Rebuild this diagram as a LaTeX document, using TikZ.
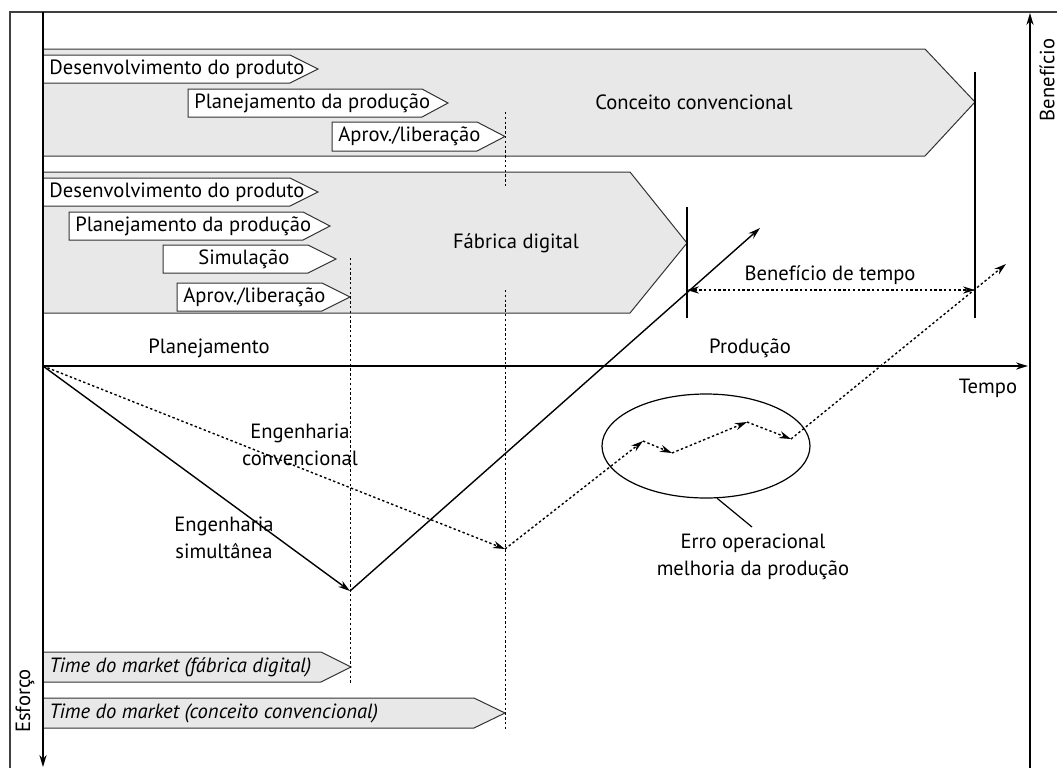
\documentclass[tikz,border=0pt]{standalone}
\usepackage{fontspec}
\setmainfont{PT Sans}
\usetikzlibrary{arrows.meta}
\usetikzlibrary{shapes.geometric}
\tikzset{>={Stealth[length=6pt,width=3.6pt]},
    every node/.style={
        font=\fontsize{10.3}{13.5}\selectfont},
    band/.style={
        draw=black!80,
        line width=0.5pt,
        fill=gray!18},
    chev/.style={
        draw=black!80,
        line width=0.5pt,
        fill=white},
    chevtext/.style={
        anchor=west,
        inner sep=0pt},
    axis/.style={
        line width=0.75pt},
    guide/.style={
        line width=0.5pt,
        dash pattern=on 1.2pt off 1.2pt},
    curve/.style={
        line width=0.7pt,
        ->},
    dcurve/.style={
        line width=0.7pt,
        dash pattern=on 1.2pt off 1.2pt,
        ->}}
% [inset]{style}{name}{left}{end}{tip}{top}{bottom}{text}
\newcommand{\chevron}[9][6]{%
    \draw[#2] (#4,#7) -- (#5,#7) -- (#6,{(#7+#8)/2}) -- (#5,#8) -- (#4,#8) -- cycle;
    \node[chevtext] (#3) at (#4+#1,{(#7+#8)/2}) {#9};}

\begin{document}
\begin{tikzpicture}[x=0.5pt,y=-0.5pt]
        \useasboundingbox (0,0) rectangle (1057,768);

        % bands
        \draw[band] (43,49) -- (925,49) -- (975,102) -- (925,156) -- (43,156) -- cycle;
        \draw[band] (43,172) -- (630,172) -- (687,243) -- (630,313) -- (43,313) -- cycle;
        \node (conceito) at (694,102) {Conceito convencional};
        \node (fabrica) at (516,243) {Fábrica digital};

        \chevron{chev}{dev1}{43}{290}{318}{55}{83}{Desenvolvimento do produto}
        \chevron{chev}{plan1}{188}{422}{448}{89}{117}{Planejamento da produção}
        \chevron{chev}{aprov1}{332}{477}{505}{122}{151}{Aprov./liberação}
        \chevron{chev}{dev2}{43}{290}{318}{178}{206}{Desenvolvimento do produto}
        \chevron{chev}{plan2}{69}{303}{330}{212}{240}{Planejamento da produção}
        \chevron[35]{chev}{simul}{163}{308}{336}{245}{273}{Simulação}
        \chevron{chev}{aprov2}{177}{322}{350}{283}{311}{Aprov./liberação}
        \chevron{band}{ttm1}{43}{321}{351}{652}{682}{\itshape Time do market (fábrica digital)}
        \chevron{band}{ttm2}{43}{474}{505}{698}{728}{\itshape Time do market (conceito convencional)}

        % guides
        \draw[guide] (505,112) -- (505,188);
        \draw[guide] (505,290) -- (505,729);
        \draw[guide] (350,258) -- (350,684);
        \draw[line width=0.6pt] (687,207) -- (687,318);
        \draw[line width=0.6pt] (975,72) -- (975,318);

        % axes
        \draw[axis,black!75] (10,768) -- (10,12) -- (1057,12);
        \draw[axis,->] (43,12) -- (43,767);
        \draw[axis,->] (1030,768) -- (1030,13);
        \coordinate (o) at (43,366);
        \coordinate (tend) at (1028,366);
        \draw[axis,->] (o) -- (tend);
        \node (planej) at (209,348) {Planejamento};
        \node (producao) at (750,348) {Produção};
        \node (tempo) at (988,388) {Tempo};
        \node[rotate=90] (beneficio) at (1047,80) {Benefício};
        \node[rotate=90] (esforco) at (25,701) {Esforço};

        % curves
        \coordinate (sim) at (350,591);
        \coordinate (conv) at (505,549);
        \coordinate (z1) at (643,441);
        \coordinate (z2) at (672,453);
        \coordinate (z3) at (747,422);
        \coordinate (z4) at (791,439);
        \coordinate (endsim) at (760,228);
        \coordinate (endconv) at (1006,264);
        \coordinate (bt1) at (687,290);
        \coordinate (bt2) at (975,290);
        \draw[curve] (o) -- (sim);
        \draw[curve] (sim) -- (endsim);
        \draw[dcurve] (o) -- (conv);
        \draw[dcurve] (conv) -- (z1);
        \draw[dcurve] (z1) -- (z2);
        \draw[dcurve] (z2) -- (z3);
        \draw[dcurve] (z3) -- (z4);
        \draw[dcurve] (z4) -- (endconv);
        \draw[dcurve,<->] (bt1) -- (bt2);
        \node (benef) at (830,275) {Benefício de tempo};
        \node[align=center] (engconv) at (300,445) {Engenharia\\convencional};
        \node[align=center] (engsim) at (224,538) {Engenharia\\simultânea};

        % ellipse
        \node[draw,ellipse,line width=0.6pt,minimum width=104pt,minimum height=52pt,inner sep=0pt] (err) at (706,446) {};
        \node[align=center] (errlbl) at (753,557) {Erro operacional\\melhoria da produção};
        \coordinate (tag) at (752,527);
        \draw[line width=0.6pt] (err.-78) -- (tag);
    \end{tikzpicture}
\end{document}
